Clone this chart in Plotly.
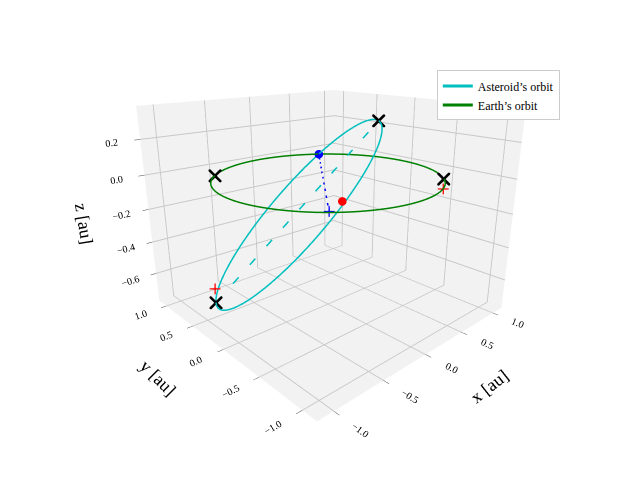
import numpy as np
import plotly.graph_objects as go

# Orbit geometry (au)
earth_radius = 1.0
ast_perihelion = [-0.86, 0.58, -0.72]   # lower-left X
ast_aphelion = [0.80, 0.15, 0.25]       # upper-right X
ast_minor = [0.31, 0.58, 0.034]         # semi-minor axis vector

black_x = [[-0.86, 0.58, -0.72], [0.80, 0.15, 0.25], [-0.70, 0.71, 0.0], [0.69, -0.72, 0.0]]
red_plus = [[-0.86, 0.58, -0.63], [0.72, -0.70, -0.06]]
blue_dot = [0.60, 0.80, 0.0]
red_dot = [-0.60, -0.80, 0.05]
blue_plus = [-0.65, -0.72, 0.0]

t = np.linspace(0, 2 * np.pi, 300)

P = np.array(ast_perihelion)
A = np.array(ast_aphelion)
B = np.array(ast_minor)
M = (A + P) / 2
H = (A - P) / 2
ast = M[:, None] + np.cos(t) * H[:, None] + np.sin(t) * B[:, None]

fig = go.Figure()

fig.add_trace(go.Scatter3d(
    x=ast[0], y=ast[1], z=ast[2], mode="lines",
    line=dict(color="#00bfbf", width=3), name="Asteroid’s orbit"))
fig.add_trace(go.Scatter3d(
    x=earth_radius * np.cos(t), y=earth_radius * np.sin(t), z=0 * t, mode="lines",
    line=dict(color="green", width=3), name="Earth’s orbit"))

# major axis (dashed)
fig.add_trace(go.Scatter3d(
    x=[P[0], A[0]], y=[P[1], A[1]], z=[P[2], A[2]], mode="lines",
    line=dict(color="#00bfbf", width=3, dash="longdash"), showlegend=False))
# blue dashed link
fig.add_trace(go.Scatter3d(
    x=[blue_dot[0], blue_plus[0]], y=[blue_dot[1], blue_plus[1]], z=[blue_dot[2], blue_plus[2]],
    mode="lines", line=dict(color="blue", width=3, dash="longdash"), showlegend=False))

bx = np.array(black_x)
fig.add_trace(go.Scatter3d(
    x=bx[:, 0], y=bx[:, 1], z=bx[:, 2], mode="markers",
    marker=dict(symbol="x", size=3, color="black"), showlegend=False))
rp = np.array(red_plus)
fig.add_trace(go.Scatter3d(
    x=rp[:, 0], y=rp[:, 1], z=rp[:, 2], mode="markers",
    marker=dict(symbol="cross", size=6, color="red"), showlegend=False))
fig.add_trace(go.Scatter3d(
    x=[blue_plus[0]], y=[blue_plus[1]], z=[blue_plus[2]], mode="markers",
    marker=dict(symbol="cross", size=6, color="blue"), showlegend=False))
fig.add_trace(go.Scatter3d(
    x=[blue_dot[0]], y=[blue_dot[1]], z=[blue_dot[2]], mode="markers",
    marker=dict(symbol="circle", size=5, color="blue"), showlegend=False))
fig.add_trace(go.Scatter3d(
    x=[red_dot[0]], y=[red_dot[1]], z=[red_dot[2]], mode="markers",
    marker=dict(symbol="circle", size=5, color="red"), showlegend=False))

axis_common = dict(
    backgroundcolor="#f2f2f2", showbackground=True, gridcolor="#c8c8c8",
    zeroline=False, showspikes=False, tickfont=dict(size=11), ticks="outside")

fig.update_layout(
    width=640, height=480,
    margin=dict(l=0, r=0, t=0, b=0),
    paper_bgcolor="white",
    font=dict(family="Liberation Serif", color="black", size=12),
    scene=dict(
        domain=dict(x=[0.0, 1.0], y=[0.1, 1.0]),
        xaxis=dict(title=dict(text="x [au]", font=dict(size=18)), range=[-1.15, 1.15],
                   tickvals=[-1.0, -0.5, 0.0, 0.5, 1.0], ticktext=["−1.0", "−0.5", "0.0", "0.5", "1.0"], **axis_common),
        yaxis=dict(title=dict(text="y [au]", font=dict(size=18)), range=[-1.15, 1.15],
                   tickvals=[-1.0, -0.5, 0.0, 0.5, 1.0], ticktext=["−1.0", "−0.5", "0.0", "0.5", "1.0"], **axis_common),
        zaxis=dict(title=dict(text="z [au]", font=dict(size=18)), range=[-0.78, 0.38],
                   tickvals=[-0.6, -0.4, -0.2, 0.0, 0.2], ticktext=["−0.6", "−0.4", "−0.2", "0.0", "0.2"], **axis_common),
        aspectmode="manual", aspectratio=dict(x=1, y=1, z=0.8),
        camera=dict(eye=dict(x=-1.3, y=-1.42, z=0.62), center=dict(x=0, y=0, z=-0.05)),
    ),
    legend=dict(x=0.67, y=0.87, xanchor="left", yanchor="top",
                bordercolor="#cccccc", borderwidth=1, bgcolor="white", font=dict(size=12)),
)

fig.write_html("out.html")
